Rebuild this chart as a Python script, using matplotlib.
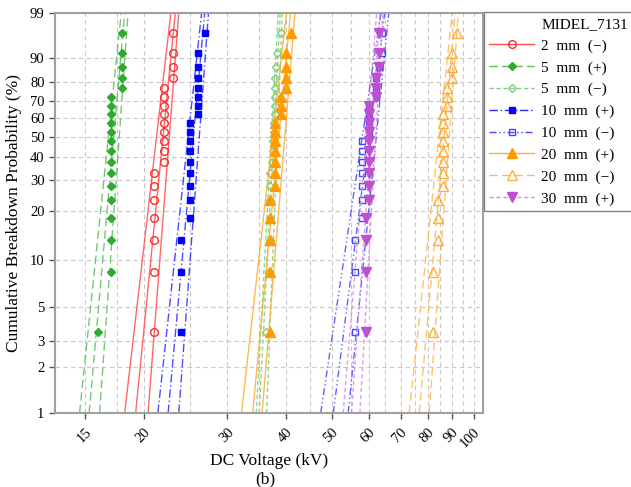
import numpy as np
import matplotlib
matplotlib.use("Agg")
import matplotlib.pyplot as plt
from matplotlib.ticker import FixedLocator, NullLocator, FixedFormatter
from matplotlib.lines import Line2D

# plotting positions (median ranks, %) shared by every series of 20 breakdowns
rank_pct = [3.4, 8.3, 13.2, 18.1, 23.0, 27.9, 32.8, 37.7, 42.6, 47.5,
            52.5, 57.4, 62.3, 67.2, 72.1, 77.0, 81.9, 86.8, 91.7, 96.6]

# breakdown voltages (kV), sorted
v_2mm_neg = [21, 21, 21, 21, 21, 21, 21, 22, 22, 22, 22, 22, 22, 22, 22, 22, 23, 23, 23, 23]
v_5mm_pos = [16, 17, 17, 17, 17, 17, 17, 17, 17, 17, 17, 17, 17, 17, 17, 18, 18, 18, 18, 18]
v_5mm_neg = [36.2, 36.8, 37.0, 37.0, 37.0, 37.0, 37.0, 37.3, 37.5, 37.6,
             37.7, 37.8, 37.9, 37.9, 37.9, 38.0, 38.0, 38.1, 38.2, 39.0]
v_10mm_pos = [24, 24, 24, 25, 25, 25, 25, 25, 25, 25, 25, 25, 26, 26, 26, 26, 26, 26, 26, 27]
v_10mm_neg = [56, 56, 56, 58, 58, 58, 58, 58, 58, 58, 60, 60, 60, 60, 62, 62, 62, 63, 64, 64]
v_20mm_pos = [37, 37, 37, 37, 37, 38, 38, 38, 38, 38, 38, 38, 39, 39, 39, 40, 40, 40, 40, 41]
v_20mm_neg = [82, 82, 84, 84, 84, 86, 86, 86, 86, 86, 86, 86, 86, 88, 88, 88, 90, 90, 90, 92]
v_30mm_pos = [59, 59, 59, 59, 60, 60, 60, 60, 60, 60, 60, 60, 60, 60, 62, 62, 62, 63, 63, 63]

# Weibull fit and confidence bounds: voltage (kV) at 1 % and at 99 %
fit_lo_2mm_neg = [18.2, 19.2, 20.4]
fit_hi_2mm_neg = [22.8, 23.3, 23.7]
fit_lo_5mm_pos = [14.6, 15.3, 16.1]
fit_hi_5mm_pos = [17.9, 18.2, 18.5]
fit_lo_5mm_neg = [34.6, 35.1, 36.4]
fit_hi_5mm_neg = [38.5, 38.9, 39.3]
fit_lo_10mm_pos = [21.4, 22.5, 23.7]
fit_hi_10mm_pos = [26.5, 26.9, 27.4]
fit_lo_10mm_neg = [47.4, 50.4, 54.2]
fit_hi_10mm_neg = [63.6, 64.8, 66.1]
fit_lo_20mm_pos = [32.2, 34.0, 35.6]
fit_hi_20mm_pos = [40.1, 40.9, 41.8]
fit_lo_20mm_neg = [73.0, 76.7, 80.5]
fit_hi_20mm_neg = [90.1, 91.4, 92.8]
fit_lo_30mm_pos = [52.9, 55.1, 57.4]
fit_hi_30mm_pos = [62.3, 63.3, 64.2]

labels = ["2  mm  (\u2212)", "5  mm  (+)", "5  mm  (\u2212)", "10  mm  (+)",
          "10  mm  (\u2212)", "20  mm  (+)", "20  mm  (\u2212)", "30  mm  (+)"]

x_ticks = [15, 20, 30, 40, 50, 60, 70, 80, 90, 100]
x_minor = [17.5, 25, 35, 45, 55, 65, 75, 85, 95]
y_ticks = [1, 2, 3, 5, 10, 20, 30, 40, 50, 60, 70, 80, 90, 99]

SERIF = "Liberation Serif"


def weib_fwd(p):
    p = np.clip(np.asarray(p, dtype=float) / 100.0, 1e-9, 1 - 1e-9)
    return np.log(-np.log(1 - p))


def weib_inv(w):
    return 100.0 * (1 - np.exp(-np.exp(np.asarray(w, dtype=float))))


series = [
    (v_2mm_neg, fit_lo_2mm_neg, fit_hi_2mm_neg,
     dict(color="#ff2a2a", marker="o", mfc="none", ms=5.5, ls="-", lc="#ff4d4d")),
    (v_5mm_pos, fit_lo_5mm_pos, fit_hi_5mm_pos,
     dict(color="#2eaa2e", marker="D", mfc="#2eaa2e", ms=4.5, ls=(0, (6, 3)), lc="#58c058")),
    (v_5mm_neg, fit_lo_5mm_neg, fit_hi_5mm_neg,
     dict(color="#7ccf7c", marker="D", mfc="none", ms=4.5, ls=(0, (3, 2)), lc="#7ccf7c")),
    (v_10mm_pos, fit_lo_10mm_pos, fit_hi_10mm_pos,
     dict(color="#0000ff", marker="s", mfc="#0000ff", ms=4.5, ls=(0, (6, 2, 1, 2)), lc="#2a2aff")),
    (v_10mm_neg, fit_lo_10mm_neg, fit_hi_10mm_neg,
     dict(color="#4646ff", marker="s", mfc="none", ms=4.5, ls=(0, (5, 2, 1, 2, 1, 2)), lc="#4646ff")),
    (v_20mm_pos, fit_lo_20mm_pos, fit_hi_20mm_pos,
     dict(color="#ff9a00", marker="^", mfc="#ff9a00", ms=6.5, ls="-", lc="#ffad33")),
    (v_20mm_neg, fit_lo_20mm_neg, fit_hi_20mm_neg,
     dict(color="#ffae3a", marker="^", mfc="none", ms=6.5, ls=(0, (6, 3)), lc="#ffb84d")),
    (v_30mm_pos, fit_lo_30mm_pos, fit_hi_30mm_pos,
     dict(color="#bf4fd0", marker="v", mfc="#bf4fd0", ms=6.5, ls=(0, (3, 2)), lc="#d88ae6")),
]

fig = plt.figure(figsize=(6.31, 4.87), dpi=100)
ax = fig.add_axes([55 / 631, 1 - 413 / 487, 428 / 631, 400 / 487])

ax.set_xscale("log")
ax.set_yscale("function", functions=(weib_fwd, weib_inv))

handles = [Line2D([], [], ls="none", marker="none")]
for (volts, lo, hi, st), lab in zip(series, labels):
    for a, b in zip(lo, hi):
        ax.plot([a, b], [1, 99], color=st["lc"], ls=st["ls"], lw=1.0, alpha=0.85)
    ax.plot(volts, rank_pct, ls="none", marker=st["marker"], ms=st["ms"],
            mfc=st["mfc"], mec=st["color"], mew=1.0)
    handles.append(Line2D([], [], color=st["lc"], ls=st["ls"], lw=1.0,
                          marker=st["marker"], ms=st["ms"], mfc=st["mfc"],
                          mec=st["color"]))

ax.set_xlim(12.95, 104.7)
ax.set_ylim(1, 99)

ax.xaxis.set_major_locator(FixedLocator(x_ticks))
ax.xaxis.set_major_formatter(FixedFormatter([str(t) for t in x_ticks]))
ax.xaxis.set_minor_locator(FixedLocator(x_minor))
ax.xaxis.set_minor_formatter(FixedFormatter([""] * len(x_minor)))
ax.yaxis.set_major_locator(FixedLocator(y_ticks))
ax.yaxis.set_major_formatter(FixedFormatter([str(t) for t in y_ticks]))
ax.yaxis.set_minor_locator(NullLocator())

ax.grid(True, which="both", axis="x", color="#c8c8c8", ls=(0, (4, 3)), lw=0.8)
ax.grid(True, which="major", axis="y", color="#c8c8c8", ls=(0, (4, 3)), lw=0.8)
ax.set_axisbelow(True)

for sp in ax.spines.values():
    sp.set_color("#a0a0a0")
    sp.set_linewidth(1.5)

ax.tick_params(axis="both", which="major", direction="out", length=4, width=1,
               color="#555555", labelsize=10.5)
ax.tick_params(axis="x", which="major", pad=5)
ax.tick_params(axis="x", which="minor", length=0)
for t in ax.get_xticklabels():
    t.set_rotation(45)
    t.set_ha("right")
    t.set_rotation_mode("anchor")
    t.set_fontfamily(SERIF)
for t in ax.get_yticklabels():
    t.set_fontfamily(SERIF)

ax.set_xlabel("DC Voltage (kV)", fontsize=12.5, fontfamily=SERIF, labelpad=2)
ax.set_ylabel("Cumulative Breakdown Probability (%)", fontsize=12.5,
              fontfamily=SERIF, labelpad=6)
fig.text(265 / 631, 1 - 479 / 487, "(b)", fontsize=12.5, fontfamily=SERIF,
         ha="center", va="center")

leg = fig.legend(handles, ["MIDEL_7131"] + labels, loc="upper left",
                 bbox_to_anchor=(484 / 631, 1 - 12 / 487), borderaxespad=0,
                 fancybox=False, edgecolor="#808080", framealpha=1,
                 prop={"family": SERIF, "size": 11}, numpoints=1,
                 handlelength=2.9, handletextpad=0.5, labelspacing=0.52,
                 borderpad=0.35)
leg.get_frame().set_linewidth(1.0)

fig.savefig("out.png", dpi=100)
